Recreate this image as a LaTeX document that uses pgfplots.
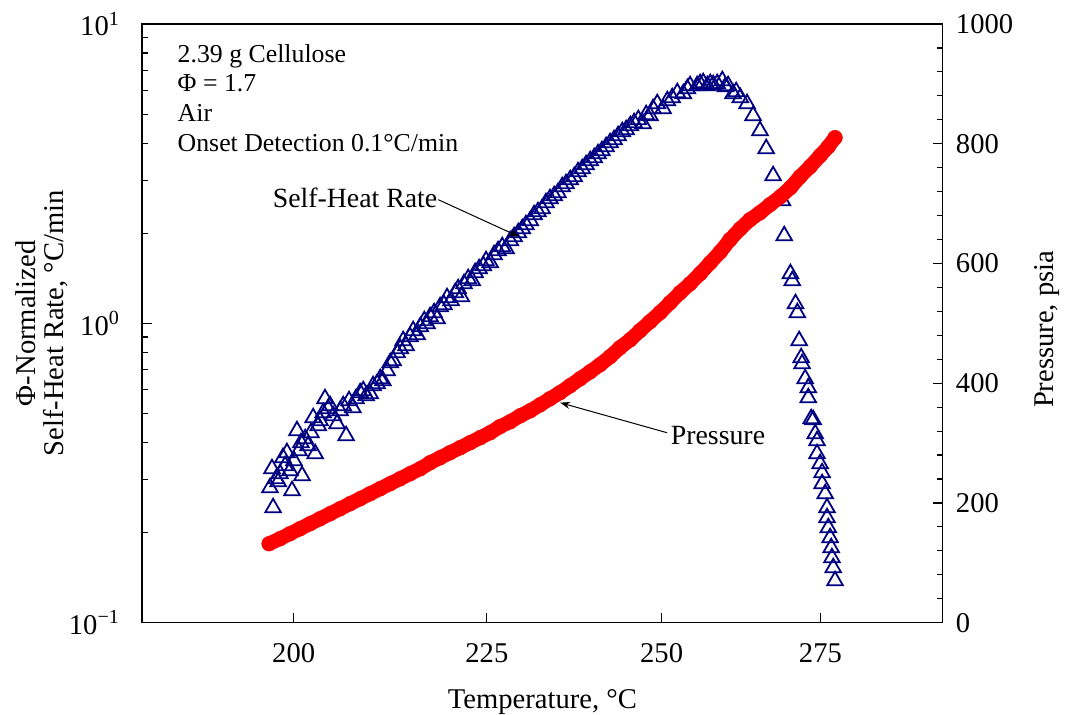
\documentclass[border=0pt]{standalone}
\usepackage{fontspec}
\setmainfont{Liberation Serif}
\usepackage{pgfplots}
\pgfplotsset{compat=1.18}
\usetikzlibrary{arrows.meta}
\definecolor{shr}{RGB}{0,0,128}

\pgfplotstableread{
T S
197.11 0.2824
197.36 0.3269
197.48 0.2421
197.84 0.3026
198.08 0.2957
198.32 0.3145
198.69 0.3557
198.94 0.3345
199.18 0.3697
199.55 0.3219
199.80 0.2759
200.04 0.3476
200.41 0.4377
200.66 0.3753
200.90 0.3991
201.03 0.3097
201.40 0.4116
201.77 0.3900
202.14 0.4310
202.39 0.4837
202.64 0.3668
203.02 0.4549
203.27 0.4727
203.65 0.5027
203.90 0.5599
204.27 0.5185
204.52 0.5306
204.90 0.4912
205.40 0.4619
205.77 0.5106
206.15 0.5306
206.53 0.4212
206.90 0.5514
207.41 0.5225
207.79 0.5599
208.30 0.5860
208.68 0.5955
209.07 0.5730
209.58 0.5819
209.96 0.6188
210.48 0.6283
210.86 0.6530
211.25 0.6430
211.76 0.6944
212.15 0.7386
212.54 0.7500
213.05 0.7976
213.44 0.8228
213.84 0.8750
214.23 0.8420
214.75 0.9023
215.15 0.9449
215.68 0.9163
216.07 0.9740
216.60 1.020
216.99 0.9972
217.39 1.052
217.92 1.085
218.31 1.036
218.71 1.136
219.24 1.154
219.63 1.218
220.17 1.190
220.71 1.266
221.11 1.305
221.52 1.227
221.92 1.356
222.46 1.410
223.00 1.388
223.41 1.476
223.95 1.522
224.49 1.558
224.90 1.619
225.44 1.594
225.98 1.695
226.53 1.748
227.08 1.803
227.63 1.775
228.18 1.888
228.74 1.947
229.29 2.008
229.85 2.071
230.41 2.135
230.97 2.202
231.53 2.306
232.08 2.360
232.64 2.415
233.20 2.529
233.76 2.608
234.33 2.669
234.90 2.731
235.47 2.860
236.04 2.927
236.61 3.018
237.18 3.088
237.75 3.210
238.33 3.284
238.90 3.387
239.48 3.493
240.05 3.574
240.62 3.686
241.20 3.772
241.79 3.891
242.37 4.013
242.96 4.106
243.55 4.235
244.13 4.367
244.73 4.435
245.32 4.574
245.91 4.681
246.50 4.790
247.23 4.645
247.68 4.977
248.27 4.939
248.72 5.211
249.33 5.416
250.23 5.211
250.84 5.542
251.59 5.671
252.35 5.894
253.27 5.849
253.87 6.079
254.33 6.221
255.39 6.221
255.85 6.318
256.32 6.367
256.94 6.221
257.40 6.318
257.87 6.270
258.49 6.318
259.26 6.465
259.73 6.173
260.20 6.221
260.98 5.849
261.45 5.939
262.08 5.671
263.17 5.416
264.12 4.939
265.24 4.401
266.20 3.832
267.32 3.112
268.77 2.568
269.09 1.962
270.06 1.465
270.38 1.388
270.88 1.163
271.20 1.085
271.51 0.875
271.83 0.7675
272.00 0.7329
272.49 0.6530
272.98 0.6093
272.98 0.5643
273.47 0.4800
273.80 0.4764
274.13 0.4277
274.46 0.4053
274.46 0.3668
274.95 0.3397
275.28 0.3169
275.28 0.2912
275.78 0.2696
276.11 0.2421
276.11 0.2242
276.28 0.2076
276.61 0.1922
276.78 0.1780
276.94 0.1648
277.11 0.1526
277.44 0.1381
}\shrdata

\pgfplotstableread{
T P
196.99 131.9
198.32 140.3
199.55 148.7
200.78 157.0
202.02 165.4
203.27 173.7
204.52 182.1
205.77 190.4
207.03 198.8
208.30 207.1
209.58 215.5
210.86 223.8
212.15 232.2
213.44 240.5
214.75 248.9
216.07 257.2
217.39 267.2
218.71 275.6
220.03 283.9
221.38 292.3
222.73 300.7
224.09 309.0
225.44 317.4
226.80 327.4
228.18 335.7
229.57 345.7
230.97 354.1
232.36 364.1
233.76 374.1
235.18 384.2
236.61 395.9
238.04 407.6
239.48 419.2
240.91 430.9
242.37 444.3
243.84 459.3
245.32 472.7
246.79 487.7
248.27 502.8
249.78 517.8
251.29 534.5
252.81 551.2
254.33 566.2
255.85 582.9
257.40 601.3
258.95 619.4
260.51 639.7
262.08 658.1
263.64 673.1
265.24 684.8
266.84 698.2
268.45 711.5
270.06 726.6
271.67 745.0
273.31 761.7
274.95 780.0
276.28 795.1
277.44 810.1
}\presdata

\begin{document}
\begin{tikzpicture}
\pgfplotsset{
  common/.style={
    scale only axis, width=400.1pt, height=299.35pt,
    at={(0,0)}, anchor=south west,
    x coord trafo/.code={\pgfmathparse{-1000/(##1+273.15)}},
    x coord inv trafo/.code={\pgfmathparse{-1000/##1-273.15}},
    xmin=182.1, xmax=295.9,
    tick align=inside,
    major tick length=5pt, minor tick length=3pt,
    every tick/.style={black, line width=0.6pt},
    axis line style={black, line width=0.8pt},
    tick label style={font=\fontsize{14.3}{16}\selectfont},
  }
}
\begin{axis}[common, name=main,
  ymode=log, ymin=0.1, ymax=10,
  xtick={200,225,250,275}, xticklabels={200,225,250,275}, xtick pos=bottom,
  xticklabel style={yshift=-6.7pt},
  ytick={0.1,1,10},
  yticklabels={10\textsuperscript{−1},10\textsuperscript{0},10\textsuperscript{1}},
  ytick pos=left,
  minor ytick={0.2,0.3,0.4,0.5,0.6,0.7,0.8,0.9,2,3,4,5,6,7,8,9},
  yticklabel style={xshift=-7.7pt},
]
\addplot[only marks, mark=triangle, mark size=4.5pt,
  mark options={draw=shr, line width=0.9pt, fill=none}] table[x=T, y=S] {\shrdata};
\end{axis}
\begin{axis}[common,
  axis y line*=right, axis x line=none,
  ymin=0, ymax=1000,
  ytick={0,200,400,600,800,1000}, yticklabels={0,200,400,600,800,1000},
  minor y tick num=4,
  yticklabel style={xshift=3.2pt},
]
\addplot[red, line width=7.2pt, line join=round, line cap=round,
  mark=*, mark size=3.7pt, mark options={solid, line width=0.2pt, fill=red, draw=red}]
  table[x=T, y=P] {\presdata};
\end{axis}

% axis labels
\node[font=\fontsize{14.3}{14}\selectfont, align=center, rotate=90]
  at ([xshift=-50.5pt]main.west) {Φ-Normalized\\Self-Heat Rate, °C/min};
\node[font=\fontsize{14.3}{16}\selectfont, rotate=90]
  at ([xshift=52.3pt, yshift=-3pt]main.east) {Pressure, psia};
\node[font=\fontsize{14.3}{16}\selectfont, anchor=base]
  at ([yshift=-43pt]main.south) {Temperature, °C};

% annotations
\node[anchor=north west, inner sep=0pt, align=left, font=\fontsize{12.9}{14.85}\selectfont]
  at ([xshift=17.5pt, yshift=-10pt]main.north west)
  {2.39 g Cellulose\\Φ = 1.7\\Air\\Onset Detection 0.1°C/min};
\node[font=\fontsize{13.9}{16}\selectfont] at ([shift={(106.35pt,212.5pt)}]main.south west) {Self-Heat Rate};
\draw[-{Stealth[length=5pt,width=3.5pt]}, line width=0.5pt]
  ([shift={(148pt,211.5pt)}]main.south west) -- ([shift={(188.4pt,193pt)}]main.south west);
\node[font=\fontsize{13.9}{16}\selectfont] at ([shift={(287.85pt,93.5pt)}]main.south west) {Pressure};
\draw[-{Stealth[length=5pt,width=3.5pt]}, line width=0.5pt]
  ([shift={(262.3pt,95pt)}]main.south west) -- ([shift={(208.9pt,110pt)}]main.south west);

\pgfresetboundingbox
\useasboundingbox (-71.15pt,-46pt) rectangle (461.35pt,311.35pt);
\end{tikzpicture}
\end{document}
